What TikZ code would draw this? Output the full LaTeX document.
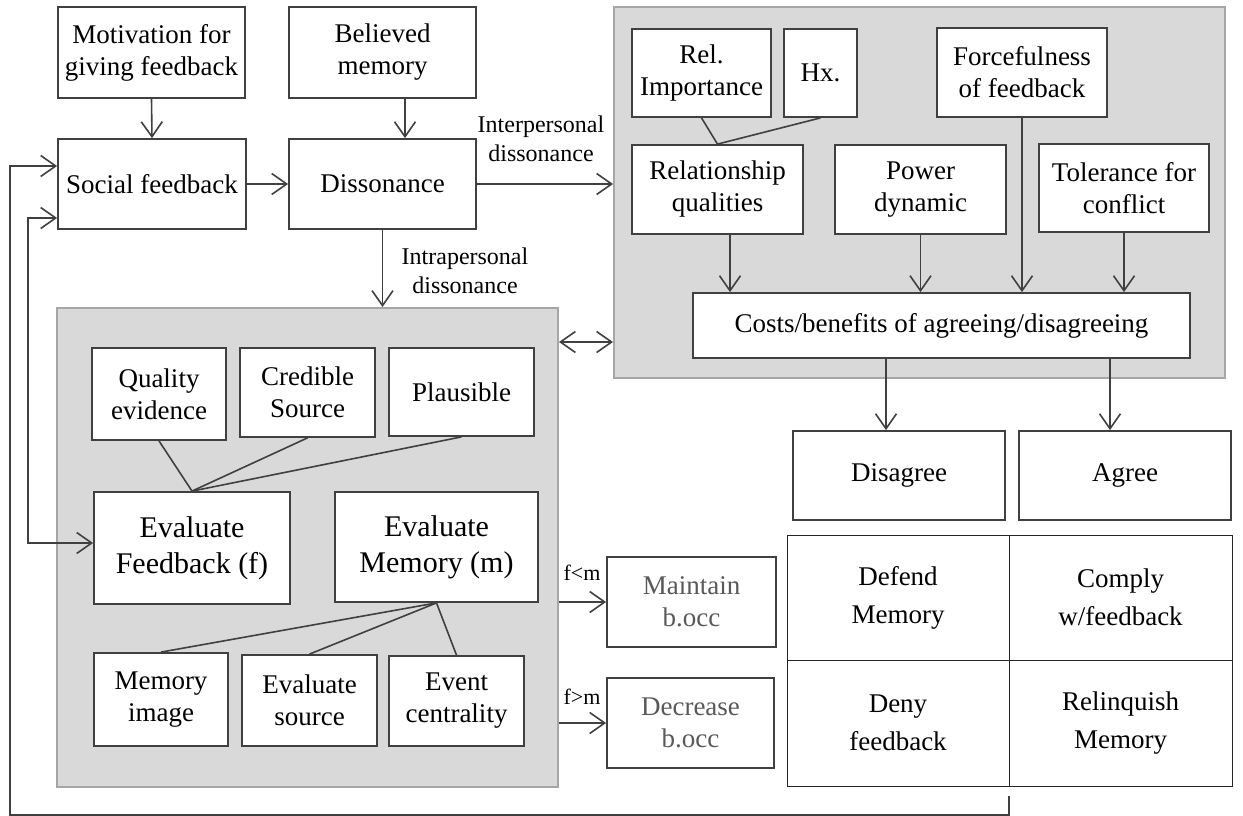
\documentclass[tikz,border=0pt]{standalone}
\usepackage{fontspec}
\setmainfont{Liberation Serif}
\usetikzlibrary{arrows.meta,calc}
\definecolor{lc}{HTML}{404040}
\definecolor{pf}{HTML}{D9D9D9}
\definecolor{pd}{HTML}{A6A6A6}
\definecolor{gt}{HTML}{595959}
\tikzset{
  box/.style={draw=lc, line width=1.8pt, fill=white, align=center, inner sep=2pt,
    font=\fontsize{27}{32}\selectfont},
  bigbox/.style={box, font=\fontsize{30}{36}\selectfont},
  panel/.style={draw=pd, fill=pf, line width=2pt, inner sep=0pt},
  cell/.style={draw=black!85, line width=1pt, fill=white, align=center, inner sep=0pt,
    font=\fontsize{27}{38}\selectfont},
  lbl/.style={align=center, inner sep=0pt, font=\fontsize{24}{29}\selectfont},
  sml/.style={inner sep=0pt, font=\fontsize{22}{26}\selectfont},
  conn/.style={draw=lc, line width=1.6pt},
  arr/.style={conn, -{Straight Barb[length=15pt,width=21pt,line width=1.6pt]}},
  arrb/.style={conn, {Straight Barb[length=15pt,width=21pt,line width=1.6pt]}-{Straight Barb[length=15pt,width=21pt,line width=1.6pt]}}
}
\begin{document}
\begin{tikzpicture}[x=1pt,y=-1pt]
\useasboundingbox (0,0) rectangle (1243,816);
\fill[white] (0,0) rectangle (1243,816);
% panels
\node[panel, minimum width=611pt, minimum height=371pt] (rpanel) at (919.5,192.5) {};
\node[panel, minimum width=501pt, minimum height=479pt] (lpanel) at (307.5,547.5) {};
% top left
\node[box, minimum width=187pt, minimum height=91pt] (mot) at (151.5,52.5) {Motivation for\\giving feedback};
\node[box, minimum width=187pt, minimum height=91pt] (bel) at (382.5,52.5) {Believed\\memory};
\node[box, minimum width=188pt, minimum height=90pt] (soc) at (152,184) {Social feedback};
\node[box, minimum width=187pt, minimum height=90pt] (dis) at (382.5,184) {Dissonance};
% right panel contents
\node[box, minimum width=139pt, minimum height=88pt] (rel) at (701.5,73) {Rel.\\Importance};
\node[box, minimum width=73pt, minimum height=88pt] (hx) at (820.5,73) {Hx.};
\node[box, minimum width=170pt, minimum height=89pt] (force) at (1022,72.5) {Forcefulness\\of feedback};
\node[box, minimum width=171pt, minimum height=89pt] (relq) at (717.5,189.5) {Relationship\\qualities};
\node[box, minimum width=171pt, minimum height=89pt] (power) at (920.5,189.5) {Power\\dynamic};
\node[box, minimum width=170pt, minimum height=88pt] (tol) at (1124,188) {Tolerance for\\conflict};
\node[box, minimum width=497pt, minimum height=65pt] (costs) at (941.5,325.5) {Costs/benefits of agreeing/disagreeing};
% left panel contents
\node[box, minimum width=134pt, minimum height=92pt] (qual) at (159,394) {Quality\\evidence};
\node[box, minimum width=135pt, minimum height=89pt] (cred) at (307.5,392.5) {Credible\\Source};
\node[box, minimum width=145pt, minimum height=88pt] (plaus) at (461.5,392) {Plausible};
\node[bigbox, minimum width=196pt, minimum height=112pt] (evf) at (192,548) {Evaluate\\Feedback (f)};
\node[bigbox, minimum width=203pt, minimum height=110pt] (evm) at (436.5,547) {Evaluate\\Memory (m)};
\node[box, minimum width=134pt, minimum height=93pt] (memi) at (161,699.5) {Memory\\image};
\node[box, minimum width=135pt, minimum height=91pt] (evs) at (309.5,700.5) {Evaluate\\source};
\node[box, minimum width=135pt, minimum height=90pt] (evc) at (456.5,701) {Event\\centrality};
% outcomes
\node[box, text=gt, minimum width=169pt, minimum height=90pt] (maint) at (691.5,602) {Maintain\\b.occ};
\node[box, text=gt, minimum width=167pt, minimum height=90pt] (decr) at (690.5,723) {Decrease\\b.occ};
\node[box, minimum width=212pt, minimum height=89pt] (disag) at (899,475.5) {Disagree};
\node[box, minimum width=212pt, minimum height=89pt] (agree) at (1125,475.5) {Agree};
% grid
\node[cell, minimum width=222pt, minimum height=125pt] (defend) at (898,597.5) {Defend\\Memory};
\node[cell, minimum width=223pt, minimum height=125pt] (comply) at (1120.5,597.5) {Comply\\w/feedback};
\node[cell, minimum width=222pt, minimum height=126pt] (deny) at (898,723) {Deny\\feedback};
\node[cell, minimum width=223pt, minimum height=126pt] (relinq) at (1120.5,723) {Relinquish\\Memory};
% labels
\node[lbl] (interl) at (541,139) {Interpersonal\\dissonance};
\node[lbl] (intral) at (465,271) {Intrapersonal\\dissonance};
\node[sml] (fltm) at (582,573) {f<m};
\node[sml] (fgtm) at (582,697) {f>m};
% helper coordinates
\coordinate (bx) at (405,0);
\coordinate (rqx) at (730,0);
\coordinate (dgx) at (886,0);
\coordinate (agx) at (1110,0);
\coordinate (ry) at (0,342);
\coordinate (fbs) at (1009,796);
\coordinate (fbb) at (10,815);
\coordinate (socin) at ($(soc.west)+(0,-18)$);
\coordinate (socin2) at ($(soc.west)+(0,34)$);
\coordinate (evfin) at ($(evf.west)+(0,-5)$);
\coordinate (ix) at (28,0);
% connectors top
\draw[arr] (mot.south) -- (soc.north);
\draw[arr] (bel.south -| bx) -- (dis.north -| bx);
\draw[arr] (soc.east) -- (dis.west);
\draw[arr] (dis.east) -- (dis.east -| rpanel.west);
\draw[arr] (dis.south) -- (dis.south |- lpanel.north);
\draw[arrb] (lpanel.east |- ry) -- (rpanel.west |- ry);
% right panel connectors
\draw[conn] (rel.south) -- (relq.north);
\draw[conn] (hx.south) -- (relq.north);
\draw[arr] (relq.south -| rqx) -- (costs.north -| rqx);
\draw[arr] (power.south) -- (costs.north -| power.south);
\draw[arr] (force.south) -- (costs.north -| force.south);
\draw[arr] (tol.south) -- (costs.north -| tol.south);
\draw[arr] (costs.south -| dgx) -- (disag.north -| dgx);
\draw[arr] (costs.south -| agx) -- (agree.north -| agx);
% left panel connectors
\draw[conn] (qual.south) -- (evf.north);
\draw[conn] (cred.south) -- (evf.north);
\draw[conn] (plaus.south) -- (evf.north);
\draw[conn] (evm.south) -- (memi.north);
\draw[conn] (evm.south) -- (evs.north);
\draw[conn] (evm.south) -- (evc.north);
\draw[arr] (lpanel.east |- maint.west) -- (maint.west);
\draw[arr] (lpanel.east |- decr.west) -- (decr.west);
% feedback loops
\draw[arr] (fbs) |- (fbb) |- (socin);
\draw[arrb] (socin2) -| (ix |- evfin) -- (evfin);
\end{tikzpicture}
\end{document}
